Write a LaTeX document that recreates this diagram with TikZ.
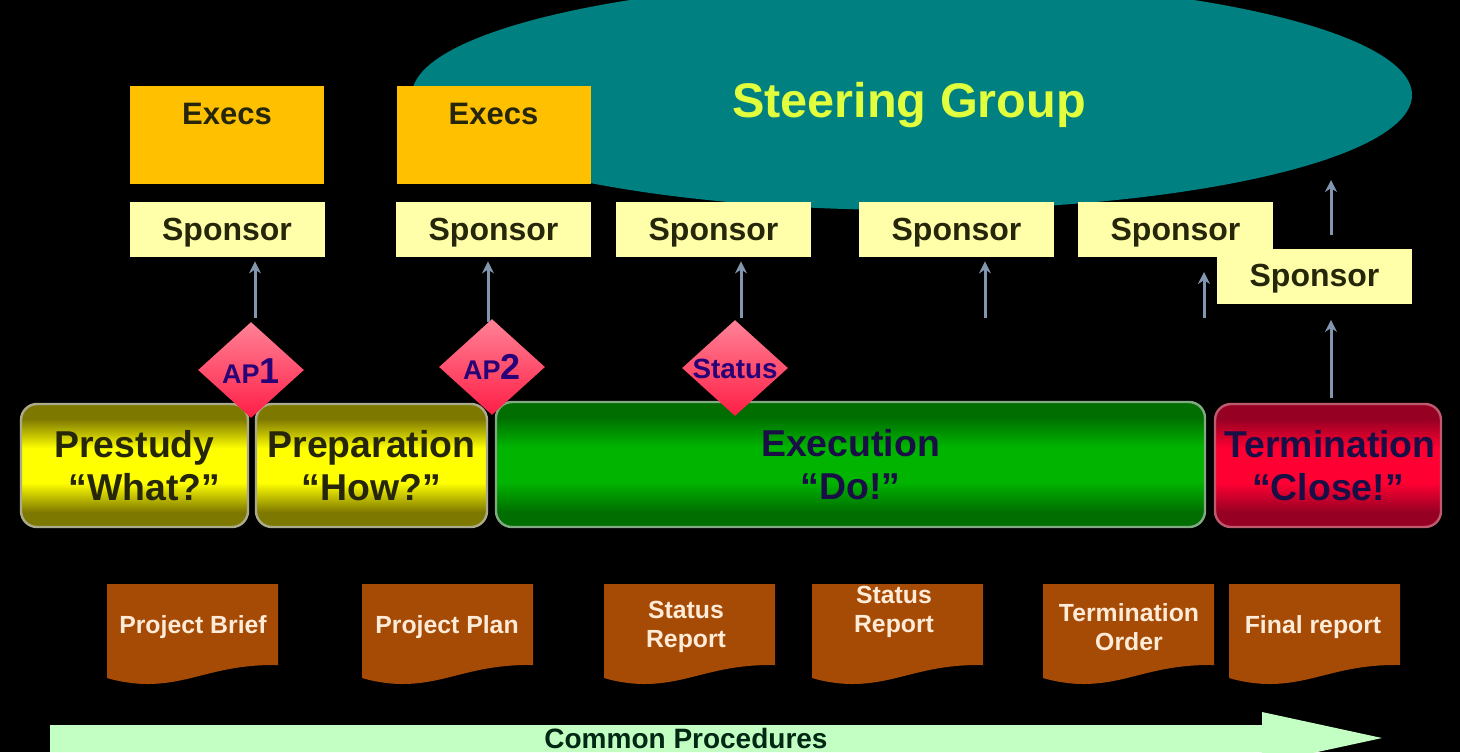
\documentclass[tikz,border=0pt]{standalone}
\usepackage{fontspec}
\setmainfont{Liberation Sans}
\usetikzlibrary{shapes.geometric,arrows.meta}
\definecolor{teal1}{RGB}{0,128,128}
\definecolor{gold1}{RGB}{255,192,0}
\definecolor{cream1}{RGB}{255,255,170}
\definecolor{ink1}{RGB}{38,38,10}
\definecolor{navy1}{RGB}{40,0,120}
\definecolor{navy2}{RGB}{25,15,70}
\definecolor{steer1}{RGB}{225,255,60}
\definecolor{flow1}{RGB}{130,150,175}
\definecolor{edge1}{RGB}{170,170,140}
\definecolor{edge2}{RGB}{190,90,110}
\definecolor{edge3}{RGB}{130,170,130}
\definecolor{ydark}{RGB}{125,120,0}
\definecolor{ymid}{RGB}{255,255,0}
\definecolor{gdark}{RGB}{0,110,0}
\definecolor{gmid}{RGB}{0,180,0}
\definecolor{rdark}{RGB}{150,0,35}
\definecolor{rmid}{RGB}{255,0,50}
\definecolor{ptop}{RGB}{255,130,150}
\definecolor{pbot}{RGB}{255,30,70}
\definecolor{doc1}{RGB}{165,75,5}
\definecolor{doctext}{RGB}{255,235,215}
\definecolor{arrow1}{RGB}{195,255,195}
\definecolor{arrowtext}{RGB}{0,40,20}
\pgfdeclareverticalshading{yband}{100bp}{color(0bp)=(ydark); color(31bp)=(ydark); color(43bp)=(ymid); color(57bp)=(ymid); color(69bp)=(ydark); color(100bp)=(ydark)}
\pgfdeclareverticalshading{gband}{100bp}{color(0bp)=(gdark); color(31bp)=(gdark); color(43bp)=(gmid); color(57bp)=(gmid); color(69bp)=(gdark); color(100bp)=(gdark)}
\pgfdeclareverticalshading{rband}{100bp}{color(0bp)=(rdark); color(31bp)=(rdark); color(43bp)=(rmid); color(57bp)=(rmid); color(69bp)=(rdark); color(100bp)=(rdark)}
\newcommand{\fs}[1]{\fontsize{#1}{1.16em}\bfseries\selectfont}
\tikzset{
  x=0.5pt,y=-0.5pt,
  steering/.style={ellipse,fill=teal1,inner sep=0pt,minimum width=500pt,minimum height=115pt,text=steer1,font=\fs{24.3}},
  execbox/.style={rectangle,fill=gold1,inner sep=0pt,minimum width=97pt,minimum height=49pt,text=ink1,font=\fs{15.5}},
  sponsorbox/.style={rectangle,fill=cream1,inner sep=0pt,minimum width=97.5pt,minimum height=27.5pt,text height=11.5pt,text depth=1pt,text=ink1,font=\fs{16}},
  phase/.style={rectangle,rounded corners=8pt,line width=1.2pt,inner sep=0pt,minimum height=61.5pt,align=center},
  yphase/.style={phase,draw=edge1,shade,shading=yband,text=ink1,font=\fontsize{18.7}{21.5}\bfseries\selectfont},
  gphase/.style={phase,draw=edge3,shade,shading=gband,text=navy2,font=\fontsize{18.7}{21.5}\bfseries\selectfont},
  rphase/.style={phase,draw=edge2,shade,shading=rband,text=navy2,font=\fontsize{18.7}{21.5}\bfseries\selectfont},
  gate/.style={diamond,inner sep=0pt,minimum width=53pt,minimum height=48pt,top color=ptop,bottom color=pbot,text=navy1},
  docshape/.style={fill=doc1},
  doclabel/.style={inner sep=0pt,align=center,text=doctext,font=\fontsize{12.4}{14.5}\bfseries\selectfont},
  flow/.style={draw=flow1,line width=1.5pt,-{Stealth[length=6pt,width=6pt]}},
  band/.style={fill=arrow1},
  bandlabel/.style={inner sep=0pt,text=arrowtext,font=\fontsize{14}{16}\bfseries\selectfont},
}
\newcommand{\docsheet}[1]{%
  \path[docshape] (#1,584) -- (#1+171,584) -- (#1+171,665)
    .. controls (#1+110,664) and (#1+85,684) .. (#1+40,684)
    .. controls (#1+25,684) and (#1+10,681) .. (#1,678) -- cycle;}
\begin{document}
\begin{tikzpicture}
\useasboundingbox (0,0) rectangle (1460,752);
\clip (0,0) rectangle (1460,752);
\fill[black] (0,0) rectangle (1460,752);
% steering group
\node[steering] (sg) at (912,95) {\smash{\raisebox{-11pt}{\hspace*{-3pt}Steering Group}}};
% execs
\node[execbox] (e1) at (227,135) {\smash{\raisebox{5.5pt}{Execs}}};
\node[execbox] (e2) at (493.5,135) {\smash{\raisebox{5.5pt}{Execs}}};
% sponsors
\node[sponsorbox] (s1) at (227,229.5) {Sponsor};
\node[sponsorbox] (s2) at (493.5,229.5) {Sponsor};
\node[sponsorbox] (s3) at (713.5,229.5) {Sponsor};
\node[sponsorbox] (s4) at (956.5,229.5) {Sponsor};
\node[sponsorbox] (s5) at (1175.5,229.5) {Sponsor};
\node[sponsorbox] (s6) at (1314.5,276) {Sponsor};
% phases
\node[yphase,minimum width=113.5pt] (p1) at (134.5,465.5) {Prestudy\\\hspace*{10pt}“What?”};
\node[yphase,minimum width=115.5pt] (p2) at (371.5,465.5) {Preparation\\“How?”};
\node[gphase,minimum width=354.5pt,minimum height=62.5pt] (p3) at (850.5,464.5) {Execution\\“Do!”};
\node[rphase,minimum width=113pt] (p4) at (1328,465.5) {\hspace*{2pt}Termination\\“Close!”};
% gates
\node[gate] (ap1) at (251,370) {\makebox[0pt]{\smash{\raisebox{-6.5pt}{\fontsize{13.5}{15}\bfseries\selectfont AP\fontsize{18}{15}\selectfont 1}}}};
\node[gate] (ap2) at (492,367) {\makebox[0pt]{\smash{\raisebox{-6pt}{\fontsize{13.5}{15}\bfseries\selectfont AP\fontsize{18}{15}\selectfont 2}}}};
\node[gate] (ap3) at (735,368) {\makebox[0pt]{\smash{\raisebox{-5pt}{\fontsize{13.9}{15}\bfseries\selectfont Status}}}};
% connectors
\coordinate (f4) at (985,318);
\coordinate (f5a) at (1204,318);
\coordinate (f5b) at (1204,272);
\coordinate (f6) at (1331,180);
\draw[flow,shorten <=2pt,shorten >=2pt] ([xshift=2pt]ap1.north) -- ([xshift=2pt]ap1.north |- s1.south);
\draw[flow,shorten <=-1.5pt,shorten >=2pt] ([xshift=-2pt]ap2.north) -- ([xshift=-2pt]ap2.north |- s2.south);
\draw[flow,shorten <=1pt,shorten >=2pt] ([xshift=3pt]ap3.north) -- ([xshift=3pt]ap3.north |- s3.south);
\draw[flow,shorten >=2pt] (f4) -- (f4 |- s4.south);
\draw[flow] (f5a) -- (f5b);
\draw[flow] ([xshift=8.25pt,yshift=6.5pt]s6.north) -- (f6);
\draw[flow,shorten <=2.5pt,shorten >=8pt] (p4.north -| f6) -- (f6 |- s6.south);
% documents
\docsheet{107}\docsheet{362}\docsheet{604}\docsheet{812}\docsheet{1043}\docsheet{1229}
\node[doclabel] (d1) at (193,627) {Project Brief};
\node[doclabel] (d2) at (447,627) {Project Plan};
\node[doclabel] (d3) at (686,627) {Status\\Report};
\node[doclabel] (d4) at (894,612) {Status\\Report};
\node[doclabel] (d5) at (1129,627) {Termination\\Order};
\node[doclabel] (d6) at (1313,627) {Final report};
% common procedures band
\path[band] (50,725) -- (1262,725) -- (1262,712) -- (1382,738) -- (1262,764) -- (1262,752) -- (50,752) -- cycle;
\node[bandlabel] (cp) at (686,738) {Common Procedures};
\end{tikzpicture}
\end{document}
